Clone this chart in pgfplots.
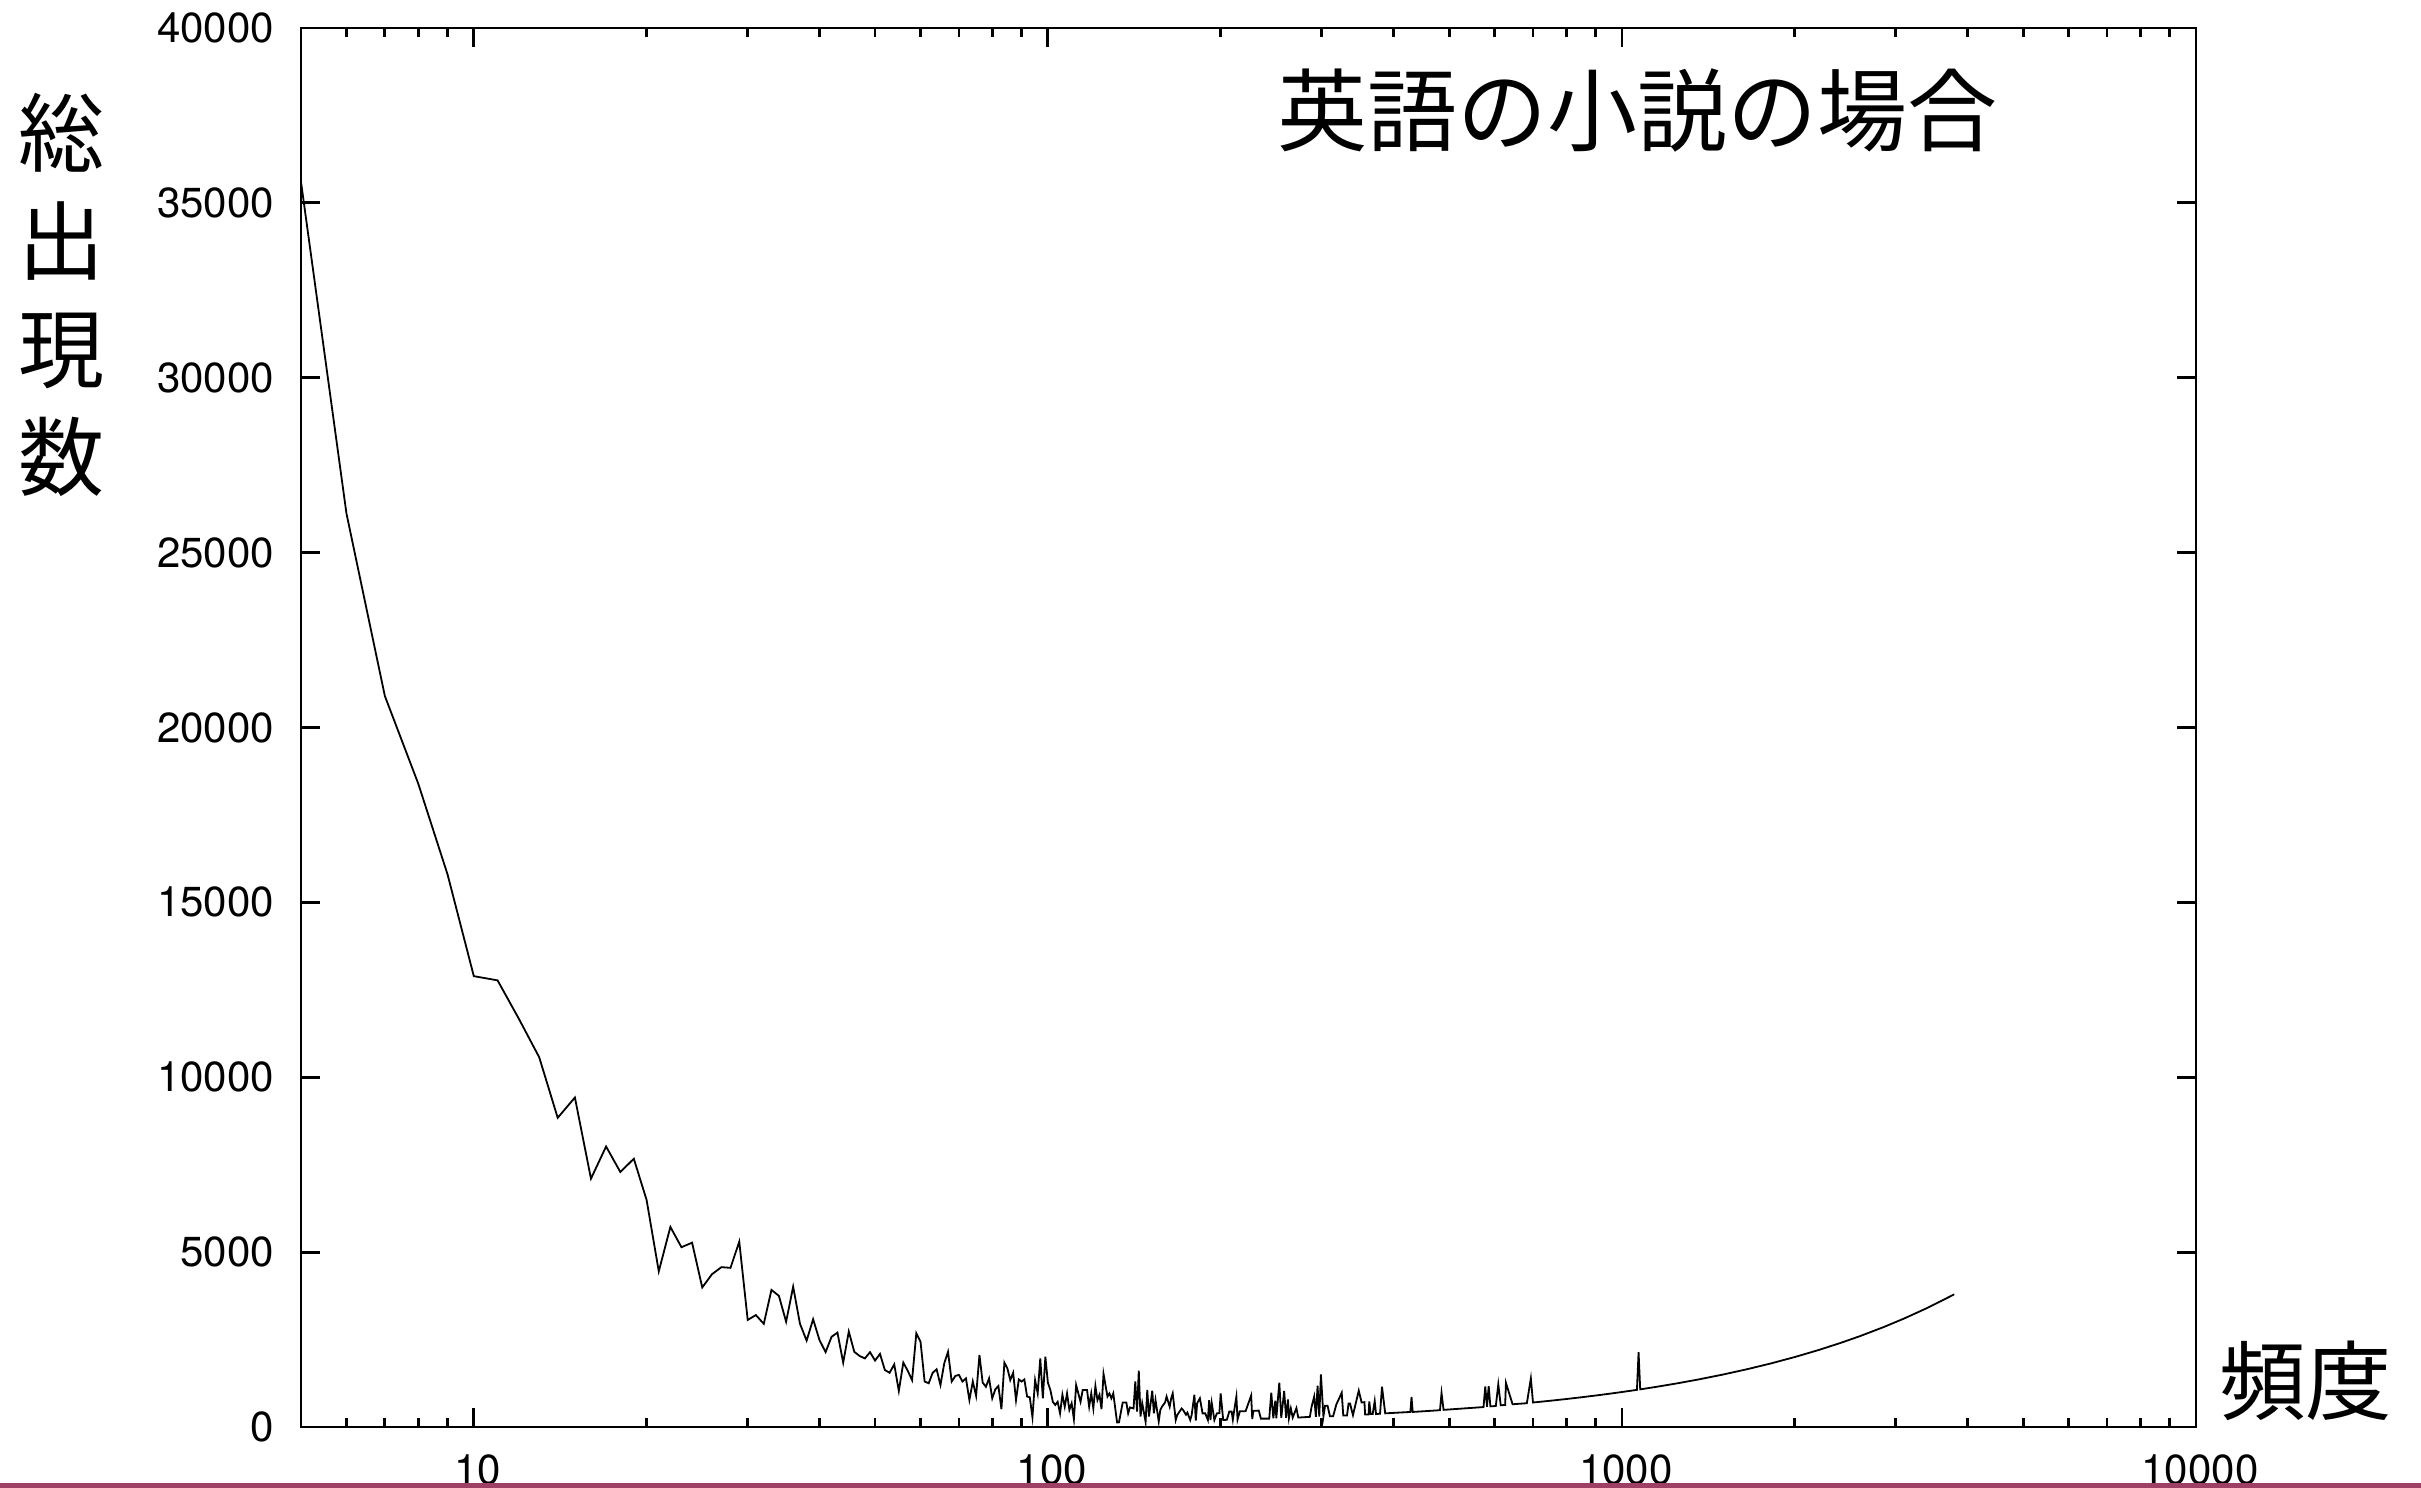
\documentclass[border=0pt]{standalone}
\usepackage{fontspec}
\setmainfont{TeX Gyre Heros}
\newfontfamily\jp{Noto Sans CJK JP}
\usepackage{pgfplots}
\usepackage{pgfplotstable}
\pgfplotsset{compat=1.18}
\definecolor{slidebar}{RGB}{158,64,102}

\pgfplotstableread{
x y
5 35600
6 26120
7 20900
8 18400
9 15800
10 12890
11 12770
12 11650
13 10570
14 8840
15 9420
16 7100
17 8020
18 7290
19 7670
20 6490
21 4450
22 5720
23 5140
24 5270
25 3990
26 4370
27 4570
28 4550
29 5300
30 3060
31 3200
32 2950
33 3920
34 3750
35 3010
36 4010
37 2950
38 2470
39 3080
40 2490
41 2140
42 2580
43 2700
44 1840
45 2730
46 2150
47 2030
48 1960
49 2140
50 1900
51 2090
52 1630
53 1550
54 1790
55 1030
56 1840
57 1610
58 1340
59 2680
60 2440
61 1300
62 1250
63 1550
64 1650
65 1200
66 1820
67 2150
68 1300
69 1460
70 1490
71 1300
72 1390
73 770
74 1300
75 890
76 2060
77 1270
78 1150
79 1390
80 820
81 1080
82 1170
83 510
84 1840
85 1680
86 1340
87 1550
88 770
89 1360
90 1300
91 1360
92 870
93 850
94 280
95 1340
96 960
97 1960
98 820
99 2010
100 1270
101 1060
102 720
103 630
104 720
105 390
106 920
107 580
108 960
109 490
110 680
111 222
112 1200
114 720
115 1060
117 1060
118 580
119 960
120 530
121 1170
122 770
123 920
124 510
125 1520
127 870
128 960
129 820
130 960
132 132
133 133
135 700
137 700
138 390
139 560
141 530
142 1300
143 440
144 1610
145 300
146 680
148 150
149 1060
150 300
152 1040
153 390
154 770
156 160
157 490
158 580
160 700
161 870
163 580
164 820
165 960
167 200
168 340
171 530
172 490
174 350
175 410
177 200
178 340
180 920
181 181
182 680
184 820
186 390
188 390
190 200
191 770
192 200
193 680
195 200
197 390
199 400
200 960
202 202
205 205
207 440
209 440
210 210
211 440
213 870
214 214
216 450
221 450
226 900
227 230
228 460
233 470
235 240
243 240
245 980
247 250
249 750
250 250
253 1270
255 260
257 770
258 1030
260 260
262 790
263 260
265 530
267 270
271 540
273 270
286 290
288 580
291 870
293 290
295 1180
297 300
299 1500
302 300
304 610
307 610
310 310
314 310
318 640
325 980
327 330
332 330
334 670
336 670
340 340
348 1040
352 700
356 710
357 360
362 360
363 730
365 370
368 370
371 740
373 370
379 380
382 1150
387 390
428 430
430 860
432 430
482 480
485 970
489 490
574 570
578 1160
582 580
586 1170
590 590
603 600
609 1220
615 620
626 630
628 1260
645 650
683 680
694 1390
700 700
750 750
800 800
850 850
900 900
950 950
1000 1000
1062 1062
1069 2140
1076 1076
1150 1150
1250 1250
1350 1350
1500 1500
1650 1650
1812 1812
2000 2000
2200 2200
2400 2400
2600 2600
2850 2850
3100 3100
3400 3400
3792 3792
}\datatable

\begin{document}
\begin{tikzpicture}
\begin{axis}[
  at={(0,0)}, anchor=south west,
  scale only axis, width=473.75pt, height=349.75pt,
  xmode=log, xmin=5, xmax=10000,
  ymin=0, ymax=40000,
  xtick={10,100,1000,10000},
  xticklabels={10,100,1000,10000},
  minor xtick={6,7,8,9,20,30,40,50,60,70,80,90,200,300,400,500,600,700,800,900,2000,3000,4000,5000,6000,7000,8000,9000},
  ytick={0,5000,10000,15000,20000,25000,30000,35000,40000},
  yticklabels={0,5000,10000,15000,20000,25000,30000,35000,40000},
  tick align=inside,
  major tick length=4.75pt, minor tick length=2.25pt,
  axis line style={line width=0.7pt},
  every tick/.style={black, line width=0.7pt},
  tick label style={font=\fontsize{10.5}{12}\selectfont},
  xticklabel style={yshift=-3.5pt, xshift=1pt},
  yticklabel style={xshift=-3.25pt},
  clip mode=individual,
]
\addplot[black, line width=0.45pt, no markers] table[x=x, y=y] {\datatable};
\node[font=\jp\fontsize{22.5pt}{27pt}\selectfont] at (axis description cs:0.7055,0.9407) {英語の小説の場合};
\node[font=\jp\fontsize{21.6pt}{26pt}\selectfont] at (axis description cs:1.058,0.0329) {頻度};
\node[align=center, font=\jp\fontsize{21.5pt}{27pt}\selectfont] at (axis description cs:-0.1266,0.809) {総\\出\\現\\数};
\end{axis}
\pgfresetboundingbox
\useasboundingbox (-75.25pt,-15.25pt) rectangle (530pt,356.75pt);
\fill[slidebar] (-75.25pt,-15.25pt) rectangle (530pt,-14pt);
\end{tikzpicture}
\end{document}
